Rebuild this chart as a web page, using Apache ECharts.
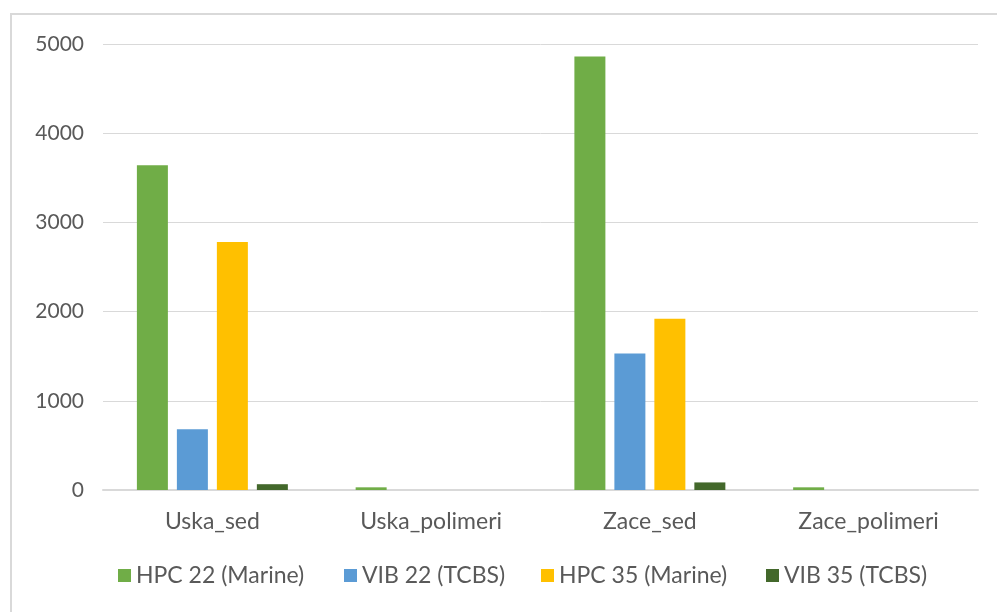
<!DOCTYPE html>
<html>
<head>
<meta charset="utf-8">
<script src="https://cdn.jsdelivr.net/npm/echarts@6/dist/echarts.min.js"></script>
<style>
  html, body { margin: 0; padding: 0; background: #fff; overflow: hidden; }
  #frame { position: absolute; left: 10px; top: 13px; width: 1000px; height: 620px; border: 2px solid #d9d9d9; box-sizing: border-box; }
  #chart { position: absolute; left: 0; top: 0; width: 997px; height: 612px; }
</style>
</head>
<body>
<div id="frame"></div>
<div id="chart"></div>
<script>
const categories = ["Uska_sed", "Uska_polimeri", "Zace_sed", "Zace_polimeri"];
const hpc22 = [3640, 30, 4860, 30];
const vib22 = [680, 0, 1530, 0];
const hpc35 = [2780, 0, 1920, 0];
const vib35 = [65, 0, 85, 0];
const seriesNames = ["HPC 22 (Marine)", "VIB 22 (TCBS)", "HPC 35 (Marine)", "VIB 35 (TCBS)"];
const colors = ["#70AD47", "#5B9BD5", "#FFC000", "#43682B"];
const legendLeft = [118, 344, 541, 766];

const font = "Lato, sans-serif";
const dataSets = [hpc22, vib22, hpc35, vib35];

const chart = echarts.init(document.getElementById("chart"));
chart.setOption({
  backgroundColor: "transparent",
  animation: false,
  textStyle: { fontFamily: font },
  grid: { left: 103, right: 19, top: 44, bottom: 122 },
  // one legend per item so each sits where the original puts it
  legend: seriesNames.map((name, i) => ({
    data: [name],
    left: legendLeft[i],
    top: 564,
    padding: 0,
    itemWidth: 13,
    itemHeight: 13,
    icon: "rect",
    textStyle: { color: "#595959", fontSize: 23, fontFamily: font }
  })),
  xAxis: {
    type: "category",
    data: categories,
    axisLine: { lineStyle: { color: "#d9d9d9", width: 2 } },
    axisTick: { show: false },
    axisLabel: { color: "#595959", fontSize: 23, margin: 20, fontFamily: font }
  },
  yAxis: {
    type: "value",
    min: 0,
    max: 5000,
    interval: 1000,
    axisLine: { show: false },
    axisTick: { show: false },
    splitLine: { lineStyle: { color: "#d9d9d9", width: 1 } },
    axisLabel: {
      color: "#595959",
      fontSize: 21,
      margin: 19,
      fontFamily: font,
      formatter: (v) => String(v)
    }
  },
  series: seriesNames.map((name, i) => ({
    name: name,
    type: "bar",
    data: dataSets[i],
    barWidth: 31,
    barGap: "29%",
    itemStyle: { color: colors[i] }
  }))
});
</script>
</body>
</html>
